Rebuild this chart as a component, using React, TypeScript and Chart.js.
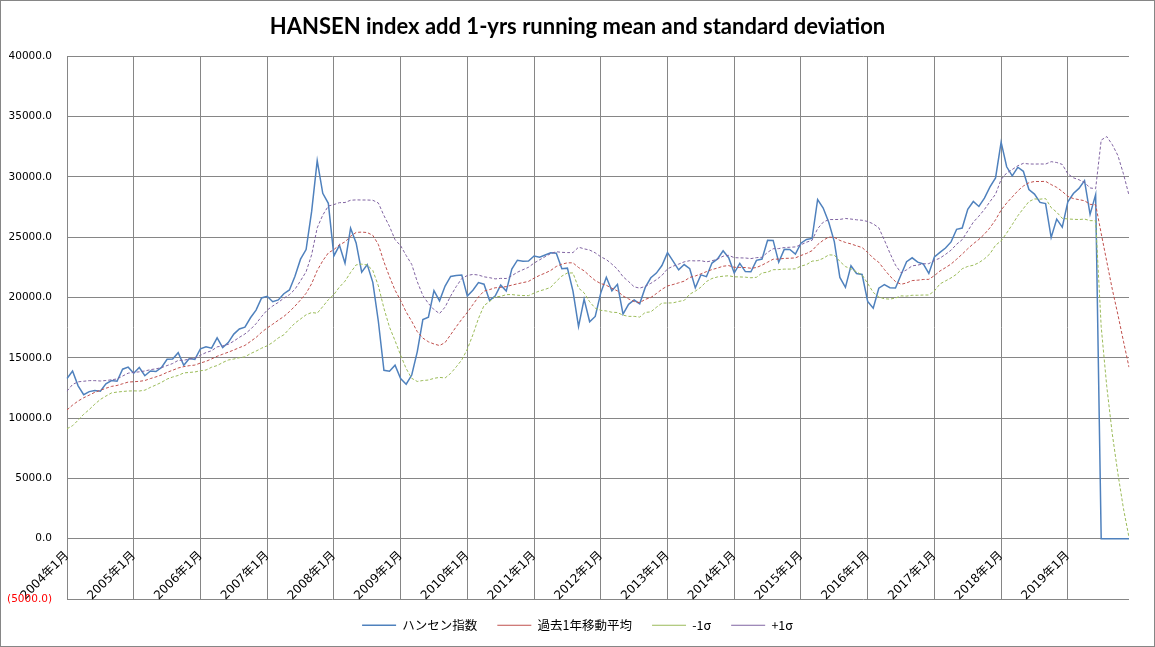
import React, { useEffect, useRef } from "react";
import { Chart, registerables } from "chart.js";

Chart.register(...registerables);

const years = [2004, 2005, 2006, 2007, 2008, 2009, 2010, 2011, 2012, 2013, 2014, 2015, 2016, 2017, 2018, 2019];
const months = [1, 2, 3, 4, 5, 6, 7, 8, 9, 10, 11, 12];
const categories = years.flatMap((y) => months.map((m) => `${y}年${m}月`));

const hangSeng = [
  13289, 13907, 12681, 11942, 12198, 12286, 12238, 12850, 13120, 13055, 14060, 14230,
  13721, 14195, 13516, 13908, 13867, 14201, 14880, 14903, 15429, 14386, 14937, 14876,
  15753, 15918, 15805, 16661, 15857, 16267, 16971, 17392, 17543, 18324, 18960, 19965,
  20106, 19652, 19801, 20319, 20634, 21773, 23185, 23984, 27143, 31352, 28643, 27813,
  23456, 24332, 22849, 25755, 24533, 22102, 22731, 21262, 18016, 13969, 13888, 14387,
  13278, 12812, 13576, 15521, 18171, 18379, 20573, 19724, 20955, 21752, 21822, 21873,
  20122, 20609, 21239, 21108, 19765, 20129, 21030, 20536, 22359, 23096, 23008, 23035,
  23447, 23338, 23528, 23721, 23684, 22398, 22440, 20535, 17592, 19864, 17989, 18434,
  20390, 21680, 20556, 21094, 18630, 19441, 19796, 19482, 20840, 21642, 22030, 22657,
  23730, 23020, 22300, 22737, 22392, 20803, 21883, 21731, 22860, 23206, 23881, 23306,
  22035, 22837, 22151, 22134, 23082, 23191, 24757, 24742, 22933, 23998, 23987, 23605,
  24507, 24823, 24901, 28133, 27424, 26250, 24636, 21671, 20846, 22640, 21996, 21914,
  19683, 19112, 20777, 21067, 20815, 20794, 21891, 22977, 23297, 22935, 22790, 22001,
  23361, 23741, 24112, 24615, 25661, 25765, 27324, 27970, 27554, 28246, 29177, 29919,
  32887, 30845, 30093, 30808, 30469, 28955, 28583, 27889, 27789, 24980, 26507, 25846,
  27942, 28633, 29051, 29699, 26901, 28543, 0, 0, 0, 0, 0, 0,
];

const runningMean = [
  10680, 11080, 11420, 11690, 11910, 12140, 12310, 12480, 12630, 12710, 12850, 12990,
  13020, 13050, 13120, 13280, 13420, 13580, 13800, 13970, 14160, 14270, 14350, 14400,
  14570, 14710, 14910, 15130, 15300, 15470, 15650, 15850, 16030, 16360, 16690, 17120,
  17480, 17790, 18120, 18430, 18830, 19290, 19800, 20350, 21150, 22240, 23050, 23700,
  23980, 24370, 24620, 25080, 25400, 25430, 25390, 25160, 24400, 22960, 21730, 20610,
  19760, 18800, 18030, 17170, 16640, 16330, 16150, 16020, 16270, 16920, 17580, 18200,
  18770, 19420, 20060, 20530, 20660, 20810, 20840, 20910, 21030, 21140, 21240, 21340,
  21610, 21840, 22030, 22250, 22580, 22770, 22880, 22880, 22490, 22220, 21800, 21410,
  21160, 21020, 20770, 20550, 20130, 19890, 19670, 19580, 19850, 20000, 20330, 20690,
  20960, 21080, 21220, 21360, 21670, 21790, 21960, 22150, 22320, 22450, 22600, 22650,
  22510, 22500, 22490, 22430, 22490, 22690, 22930, 23180, 23190, 23250, 23260, 23290,
  23490, 23660, 23890, 24390, 24750, 25010, 24990, 24740, 24570, 24450, 24290, 24150,
  23740, 23270, 22920, 22330, 21780, 21330, 21100, 21210, 21410, 21440, 21500, 21510,
  21820, 22200, 22480, 22780, 23180, 23600, 24050, 24460, 24820, 25260, 25790, 26450,
  27250, 27840, 28340, 28850, 29250, 29520, 29630, 29620, 29640, 29370, 29140, 28800,
  28390, 28210, 28120, 28030, 27730, 27700, 25320, 22990, 20680, 18590, 16380, 14230,
];

const minusSigma = [
  9120, 9370, 9830, 10320, 10710, 11160, 11550, 11830, 12090, 12160, 12210, 12250,
  12260, 12250, 12320, 12550, 12750, 12970, 13240, 13410, 13540, 13750, 13790, 13830,
  13930, 13990, 14220, 14360, 14610, 14820, 14900, 15010, 15080, 15350, 15560, 15800,
  16000, 16280, 16650, 16910, 17410, 17880, 18220, 18570, 18760, 18700, 19250, 19820,
  20250, 20870, 21360, 22080, 22710, 22770, 22700, 22250, 20970, 19110, 17550, 16420,
  15220, 14110, 13300, 13040, 13120, 13160, 13300, 13380, 13330, 13710, 14250, 14830,
  15720, 16920, 18260, 19340, 19670, 20060, 20100, 20240, 20250, 20190, 20170, 20160,
  20370, 20550, 20680, 20850, 21350, 21780, 22040, 22040, 20790, 20390, 19650, 19120,
  18940, 18890, 18780, 18760, 18540, 18440, 18440, 18380, 18770, 18810, 19190, 19540,
  19550, 19560, 19680, 19760, 20280, 20530, 20860, 21330, 21580, 21710, 21770, 21810,
  21720, 21710, 21690, 21640, 21680, 22040, 22110, 22310, 22320, 22360, 22360, 22380,
  22610, 22730, 23020, 23070, 23250, 23540, 23520, 23000, 22570, 22390, 22120, 21880,
  21170, 20430, 20050, 19900, 19870, 19960, 20140, 20120, 20190, 20190, 20210, 20210,
  20550, 21130, 21380, 21630, 21940, 22390, 22580, 22680, 22890, 23210, 23630, 24340,
  24700, 25350, 26050, 26780, 27380, 27960, 28180, 28160, 28210, 27460, 27080, 26570,
  26520, 26490, 26470, 26510, 26380, 26370, 17570, 12630, 8670, 5410, 2510, 100,
];

const plusSigma = [
  12240, 12790, 13010, 13060, 13110, 13110, 13080, 13120, 13180, 13250, 13490, 13730,
  13790, 13840, 13910, 14020, 14090, 14190, 14360, 14530, 14790, 14800, 14900, 14970,
  15210, 15440, 15590, 15910, 15990, 16120, 16390, 16700, 16980, 17360, 17830, 18430,
  18960, 19300, 19600, 19950, 20240, 20690, 21390, 22140, 23550, 25780, 26840, 27590,
  27710, 27870, 27880, 28070, 28100, 28090, 28090, 28070, 27840, 26800, 25900, 24800,
  24300, 23490, 22750, 21310, 20170, 19510, 19000, 18670, 19210, 20130, 20910, 21580,
  21830, 21920, 21870, 21720, 21650, 21550, 21590, 21580, 21810, 22100, 22310, 22510,
  22860, 23130, 23390, 23650, 23800, 23750, 23730, 23730, 24180, 24040, 23940, 23710,
  23380, 23150, 22770, 22350, 21730, 21330, 20890, 20780, 20930, 21180, 21480, 21840,
  22380, 22600, 22770, 22960, 23060, 23040, 23060, 22960, 23050, 23190, 23430, 23500,
  23310, 23290, 23280, 23230, 23310, 23340, 23750, 24050, 24060, 24150, 24170, 24200,
  24380, 24590, 24750, 25710, 26250, 26470, 26470, 26480, 26560, 26510, 26450, 26410,
  26310, 26110, 25790, 24770, 23690, 22690, 22060, 22300, 22630, 22690, 22800, 22810,
  23080, 23270, 23580, 23930, 24420, 24800, 25520, 26250, 26750, 27310, 27960, 28570,
  29800, 30330, 30620, 30930, 31130, 31080, 31070, 31080, 31070, 31270, 31200, 31040,
  30260, 29930, 29770, 29550, 29090, 29030, 33060, 33350, 32680, 31780, 30260, 28480,
];

const yMin = -5000;
const yMax = 40000;
const yStep = 5000;

const GRID = "#868686";
const AXIS_FONT = "'DejaVu Sans', 'Noto Sans CJK JP', sans-serif";
const JP_FONT = "'Noto Sans CJK JP', 'DejaVu Sans', sans-serif";

export default function App() {
  const ref = useRef<HTMLCanvasElement | null>(null);

  useEffect(() => {
    document.body.style.margin = "0";
    const canvas = ref.current;
    if (!canvas) return;
    const chart = new Chart(canvas, {
      type: "line",
      data: {
        labels: categories,
        datasets: [
          { label: "ハンセン指数", data: hangSeng, borderColor: "#4F81BD", backgroundColor: "#4F81BD", borderWidth: 1.5, pointRadius: 0, tension: 0, order: 4 },
          { label: "過去1年移動平均", data: runningMean, borderColor: "#C0504D", backgroundColor: "#C0504D", borderWidth: 1, borderDash: [3, 2], pointRadius: 0, tension: 0, order: 3 },
          { label: "-1σ", data: minusSigma, borderColor: "#9BBB59", backgroundColor: "#9BBB59", borderWidth: 1, borderDash: [3, 2], pointRadius: 0, tension: 0, order: 2 },
          { label: "+1σ", data: plusSigma, borderColor: "#8064A2", backgroundColor: "#8064A2", borderWidth: 1, borderDash: [3, 2], pointRadius: 0, tension: 0, order: 1 },
        ],
      },
      options: {
        animation: false,
        responsive: false,
        events: [],
        layout: { padding: { top: 5, right: 0, bottom: 4.5, left: 0 } },
        plugins: {
          title: {
            display: true,
            text: "HANSEN index add 1-yrs running mean and standard deviation",
            color: "#000000",
            font: { family: "Lato, 'Open Sans', sans-serif", weight: "bold", size: 22 },
            padding: { top: 8, bottom: 16 },
          },
          legend: {
            position: "bottom",
            labels: {
              usePointStyle: true,
              pointStyle: "line",
              pointStyleWidth: 34,
              boxHeight: 13,
              padding: 20,
              color: "#000000",
              font: { family: JP_FONT, size: 12.5 },
              sort: (a: any, b: any) => a.datasetIndex - b.datasetIndex,
            },
          },
          tooltip: { enabled: false },
        },
        scales: {
          x: {
            type: "category",
            position: { y: 0 } as any,
            border: { display: false },
            grid: {
              color: (ctx: any) => (ctx.index % 12 === 0 ? GRID : "rgba(0,0,0,0)"),
              lineWidth: 1,
              drawTicks: false,
            },
            ticks: {
              autoSkip: false,
              minRotation: 45,
              maxRotation: 45,
              padding: 10,
              color: "#000000",
              font: { family: AXIS_FONT, size: 12 },
              callback: (_v: any, i: number) => (i % 12 === 0 ? categories[i] : ""),
            },
          },
          y: {
            min: yMin,
            max: yMax,
            border: { display: false },
            grid: { color: GRID, lineWidth: 1, drawTicks: false },
            afterFit: (s: any) => {
              s.width = 66;
            },
            ticks: {
              stepSize: yStep,
              padding: 15,
              font: { family: AXIS_FONT, size: 10.5 },
              color: (ctx: any) => (ctx.tick && ctx.tick.value < 0 ? "#FF0000" : "#000000"),
              callback: (v: any) => {
                const n = Number(v);
                return n < 0 ? `(${Math.abs(n).toFixed(1)})` : n.toFixed(1);
              },
            },
          },
          yRight: {
            type: "linear",
            position: "right",
            display: true,
            border: { display: false },
            grid: { drawOnChartArea: false, drawTicks: false },
            ticks: { display: false },
            afterFit: (s: any) => {
              s.width = 25;
            },
          },
        },
      },
    });
    return () => chart.destroy();
  }, []);

  return (
    <div
      style={{
        position: "absolute",
        left: 0,
        top: 0,
        width: 1155,
        height: 647,
        boxSizing: "border-box",
        border: "1px solid #868686",
        background: "#ffffff",
      }}
    >
      <canvas ref={ref} width={1153} height={645} style={{ display: "block", width: 1153, height: 645 }} />
    </div>
  );
}
